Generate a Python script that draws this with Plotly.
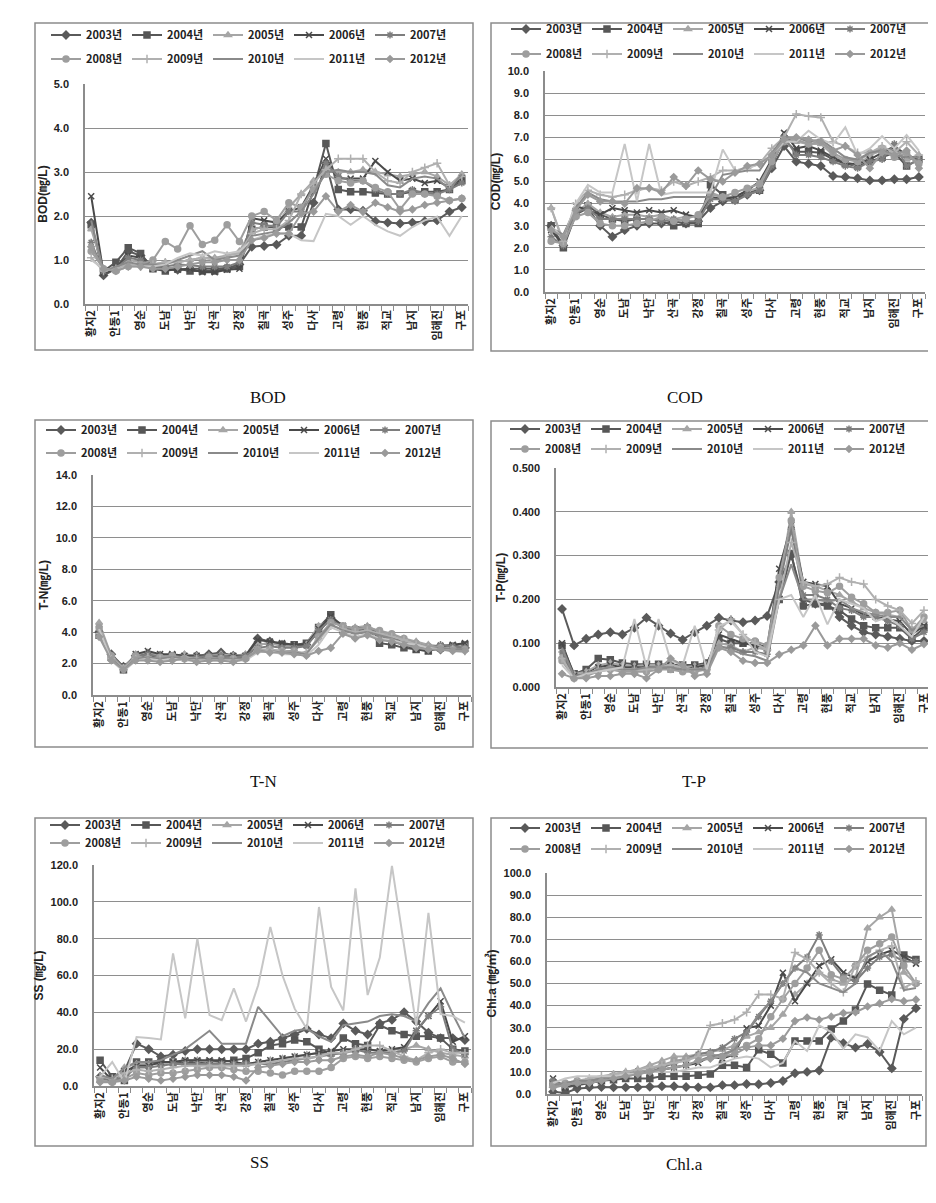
import plotly.graph_objects as go

# ---------------- data ----------------
YEARS = ["2003년", "2004년", "2005년", "2006년", "2007년",
         "2008년", "2009년", "2010년", "2011년", "2012년"]
# 31 monitoring sites along the river; only every second site is labelled
N_SITES = 31
SITE_LABELS = ["황지2", "안동1", "영순", "도남", "낙단", "산곡", "강정", "칠곡",
               "성주", "다사", "고령", "현풍", "적교", "남지", "임해진", "구포"]

BOD = [
    [1.85,0.65,0.80,1.20,1.10,0.85,0.80,0.78,0.80,0.80,0.80,0.82,0.90,1.30,1.32,1.35,1.55,1.55,2.30,3.20,2.15,2.15,2.12,1.88,1.85,1.83,1.85,1.88,1.90,2.10,2.20],
    [1.80,0.75,0.95,1.28,1.15,0.80,0.75,0.80,0.75,0.75,0.75,0.80,0.85,1.70,1.75,1.75,1.75,1.75,2.60,3.65,2.60,2.55,2.55,2.52,2.50,2.50,2.55,2.55,2.55,2.60,2.80],
    [1.70,0.80,0.75,1.00,0.95,0.90,0.95,0.95,1.00,1.05,1.05,1.10,1.20,1.70,1.75,1.80,2.20,2.50,2.80,3.10,3.00,3.00,3.05,3.00,2.95,2.90,2.95,3.00,2.90,2.70,2.95],
    [2.45,0.70,0.80,1.10,1.05,0.80,0.78,0.78,0.80,0.72,0.72,0.78,0.80,1.95,1.90,1.85,2.10,2.20,2.70,3.30,2.85,2.85,2.85,3.25,3.00,2.80,2.85,2.75,2.80,2.65,2.85],
    [1.40,0.75,0.80,1.05,1.00,0.85,0.85,0.90,0.88,0.85,0.85,0.85,0.95,1.85,1.80,1.75,2.10,2.10,2.70,3.20,2.90,2.80,2.80,2.60,2.50,2.50,2.60,2.50,2.50,2.60,2.75],
    [1.20,0.80,0.75,0.85,0.90,1.00,1.42,1.25,1.78,1.35,1.45,1.80,1.42,2.00,2.10,1.90,2.30,2.20,2.60,2.95,2.80,2.75,2.80,2.65,2.55,2.15,2.50,2.50,2.45,2.35,2.40],
    [1.05,0.75,0.80,0.90,0.85,0.90,0.95,0.95,1.00,1.05,1.00,1.10,1.15,1.60,1.70,1.70,1.90,2.50,2.75,3.05,3.30,3.30,3.30,3.00,2.80,2.75,3.00,3.10,3.20,2.70,2.90],
    [1.90,0.75,0.85,0.95,0.90,0.90,0.90,1.00,1.10,1.20,1.00,1.05,1.10,1.55,1.60,1.65,1.85,2.10,2.50,3.00,3.05,3.00,3.00,2.95,2.70,2.65,2.85,2.90,2.85,2.60,2.95],
    [1.00,0.80,0.75,0.85,0.85,0.85,0.90,1.05,1.15,1.10,1.20,1.15,1.20,1.45,1.55,1.60,1.60,1.45,1.43,2.05,2.00,1.80,2.00,1.80,1.65,1.55,1.75,1.90,1.98,1.55,2.00],
    [1.30,0.80,0.75,0.85,0.85,0.80,0.80,0.85,0.90,0.95,0.95,1.00,1.00,1.45,1.50,1.60,1.60,2.05,2.10,2.45,2.10,2.25,2.10,2.30,2.20,2.10,2.15,2.25,2.30,2.35,2.40],
]

COD = [
    [3.0,2.1,3.5,3.8,3.0,2.5,2.8,3.0,3.1,3.1,3.2,3.1,3.2,3.8,4.1,4.2,4.4,4.6,5.6,6.6,5.9,5.8,5.7,5.25,5.2,5.15,5.05,5.05,5.1,5.1,5.2],
    [3.0,2.0,3.5,3.9,3.5,3.3,3.2,3.3,3.3,3.2,3.0,3.1,3.1,4.85,4.4,4.2,4.5,4.6,5.8,6.9,6.35,6.35,6.3,6.0,5.8,5.7,5.9,6.1,6.3,5.7,6.0],
    [3.8,2.2,3.6,4.0,3.6,3.4,3.5,3.5,3.4,3.5,3.3,3.4,3.4,4.5,4.3,4.3,4.6,4.7,5.9,7.1,6.8,6.7,6.7,6.2,5.9,5.7,6.2,6.4,6.5,6.0,6.2],
    [2.8,2.1,3.9,3.7,3.5,3.8,3.7,3.6,3.7,3.6,3.7,3.5,3.4,4.3,4.2,4.3,4.6,5.0,6.0,7.2,6.5,6.6,6.4,6.1,5.8,5.8,6.0,6.3,6.6,6.2,6.0],
    [2.5,2.1,3.6,3.8,3.3,3.3,3.3,3.3,3.3,3.2,3.3,3.2,3.2,4.2,4.2,4.1,4.4,4.6,5.7,7.0,6.2,6.2,6.1,5.9,5.7,5.6,5.9,6.0,6.7,5.7,6.0],
    [2.3,2.2,3.4,3.6,3.1,3.0,3.0,3.1,3.2,3.4,3.2,3.3,3.5,4.4,4.3,4.5,4.7,4.9,5.9,6.8,6.9,6.7,6.8,6.3,6.0,5.9,6.3,6.5,6.1,6.3,5.8],
    [3.8,2.3,4.0,4.6,4.4,4.3,4.4,4.6,4.7,4.6,5.0,4.8,5.0,5.2,5.5,5.5,5.6,5.8,6.5,7.0,8.05,7.95,7.9,6.8,6.6,6.3,6.3,6.6,6.3,6.8,6.2],
    [2.9,2.6,3.8,4.5,4.2,4.1,4.1,4.1,4.2,4.2,4.3,4.3,4.3,4.3,5.3,5.4,5.5,5.5,6.3,7.0,7.0,6.8,6.9,6.5,6.1,6.0,6.3,6.4,6.2,6.1,6.1],
    [3.0,2.4,4.0,4.85,4.5,4.5,6.7,4.1,6.7,4.4,4.5,4.5,4.5,4.5,6.45,5.5,5.6,5.8,6.2,6.8,6.8,7.3,6.9,6.7,7.45,6.2,6.5,7.05,6.5,7.1,6.4],
    [2.8,2.5,3.7,4.4,4.1,4.1,4.0,4.7,4.7,4.5,5.2,4.8,5.5,5.1,5.0,5.4,5.7,5.8,6.2,6.9,7.0,6.9,6.8,6.4,6.6,6.2,5.6,6.3,6.2,6.4,5.6],
]

TN = [
    [4.0,2.6,1.8,2.5,2.6,2.5,2.4,2.5,2.5,2.6,2.7,2.5,2.5,3.6,3.4,3.2,3.1,3.2,4.0,4.9,4.3,4.2,4.2,4.0,3.6,3.4,3.1,2.9,2.9,3.0,3.0],
    [3.8,2.4,1.6,2.4,2.5,2.4,2.5,2.4,2.3,2.4,2.5,2.4,2.4,3.2,3.3,3.2,3.2,3.3,4.3,5.1,4.2,4.1,4.2,3.3,3.2,3.0,2.9,2.8,3.0,3.1,3.2],
    [4.6,2.5,1.7,2.6,2.7,2.5,2.5,2.6,2.5,2.5,2.6,2.5,2.6,3.2,3.3,3.1,3.1,3.2,4.4,4.8,4.3,4.3,4.4,4.0,3.8,3.6,3.4,3.2,3.1,3.0,3.2],
    [4.2,2.4,1.6,2.6,2.8,2.6,2.6,2.5,2.5,2.5,2.4,2.5,2.5,3.5,3.4,3.3,3.2,3.2,4.2,5.0,4.4,4.2,4.3,3.6,3.4,3.2,2.9,2.8,3.1,3.2,3.3],
    [4.1,2.3,1.6,2.4,2.6,2.4,2.5,2.4,2.4,2.5,2.5,2.4,2.5,3.0,3.1,3.0,3.0,3.1,4.1,4.8,4.3,4.1,4.3,3.8,3.5,3.3,3.1,3.0,3.2,3.1,3.0],
    [4.3,2.5,1.7,2.5,2.3,2.4,2.5,2.3,2.2,2.4,2.3,2.3,2.3,2.9,2.9,2.8,2.8,2.6,3.7,4.6,4.4,4.2,4.3,4.1,3.9,3.6,3.3,3.1,3.0,2.9,2.9],
    [3.9,2.3,1.7,2.3,2.4,2.3,2.2,2.4,2.3,2.2,2.3,2.2,2.3,2.8,2.9,2.8,2.7,2.7,3.5,4.4,4.2,4.0,4.1,3.9,3.7,3.5,3.2,3.0,3.0,2.9,2.8],
    [4.0,2.3,1.6,2.3,2.4,2.3,2.4,2.3,2.3,2.3,2.3,2.3,2.3,2.8,2.8,2.7,2.7,2.6,3.6,4.5,4.1,3.9,4.0,3.8,3.6,3.3,3.1,3.0,3.0,2.9,2.9],
    [4.2,2.2,1.5,2.2,2.3,2.2,2.3,2.2,2.2,2.2,2.2,2.2,2.2,2.7,2.8,2.6,2.6,2.5,3.2,4.3,4.0,3.7,3.9,3.6,3.5,3.3,3.2,3.0,2.9,2.8,2.7],
    [3.7,2.2,1.6,2.2,2.2,2.1,2.2,2.3,2.1,2.2,2.2,2.1,2.3,2.8,2.7,2.7,2.6,2.5,2.8,3.0,3.9,3.6,3.8,3.5,3.4,3.2,3.0,2.9,2.9,2.8,2.8],
]

TP = [
    [0.178,0.095,0.110,0.120,0.125,0.120,0.135,0.158,0.140,0.122,0.108,0.125,0.140,0.158,0.152,0.148,0.152,0.162,0.240,0.300,0.200,0.190,0.190,0.160,0.140,0.125,0.120,0.115,0.110,0.105,0.105],
    [0.095,0.030,0.040,0.065,0.062,0.055,0.052,0.052,0.052,0.050,0.050,0.050,0.055,0.110,0.100,0.100,0.100,0.090,0.200,0.305,0.185,0.190,0.185,0.175,0.155,0.140,0.135,0.135,0.135,0.110,0.135],
    [0.070,0.030,0.035,0.050,0.055,0.050,0.048,0.050,0.050,0.048,0.045,0.048,0.050,0.100,0.095,0.080,0.090,0.085,0.230,0.400,0.235,0.230,0.220,0.210,0.195,0.180,0.170,0.165,0.160,0.130,0.150],
    [0.100,0.025,0.030,0.045,0.050,0.045,0.045,0.045,0.045,0.040,0.040,0.045,0.050,0.120,0.110,0.100,0.095,0.090,0.270,0.370,0.240,0.235,0.230,0.190,0.180,0.165,0.160,0.155,0.150,0.120,0.140],
    [0.080,0.020,0.030,0.040,0.045,0.040,0.040,0.040,0.045,0.040,0.040,0.040,0.045,0.090,0.090,0.080,0.080,0.075,0.230,0.360,0.210,0.210,0.200,0.180,0.175,0.160,0.160,0.150,0.140,0.110,0.125],
    [0.060,0.020,0.025,0.035,0.040,0.035,0.035,0.035,0.040,0.040,0.035,0.035,0.040,0.140,0.120,0.110,0.105,0.095,0.250,0.380,0.230,0.220,0.215,0.230,0.205,0.190,0.170,0.170,0.175,0.130,0.160],
    [0.065,0.020,0.030,0.040,0.040,0.040,0.040,0.040,0.045,0.050,0.045,0.040,0.040,0.130,0.155,0.120,0.100,0.085,0.200,0.330,0.240,0.230,0.235,0.250,0.240,0.235,0.200,0.185,0.175,0.145,0.175],
    [0.090,0.025,0.030,0.040,0.045,0.040,0.040,0.045,0.045,0.045,0.040,0.040,0.040,0.095,0.085,0.075,0.070,0.060,0.200,0.280,0.200,0.200,0.195,0.200,0.180,0.170,0.165,0.160,0.160,0.130,0.140],
    [0.050,0.020,0.030,0.035,0.040,0.045,0.155,0.045,0.155,0.060,0.050,0.140,0.040,0.140,0.150,0.120,0.080,0.070,0.200,0.210,0.160,0.210,0.143,0.200,0.190,0.180,0.150,0.160,0.140,0.115,0.160],
    [0.030,0.020,0.020,0.025,0.025,0.030,0.030,0.020,0.040,0.065,0.050,0.025,0.030,0.090,0.080,0.060,0.055,0.055,0.074,0.085,0.095,0.140,0.095,0.110,0.110,0.110,0.095,0.090,0.100,0.085,0.098],
]

SS = [
    [5,3,8,23,20,16,17,19,20,20,20,20,20,23,24,26,28,31,28,26,34,30,28,34,36,40,35,29,26,26,25],
    [14,5,3,13,13,13,13,13,13,13,13,14,15,18,22,23,25,24,20,18,26,23,22,33,30,28,27,27,26,20,19],
    [3,2,10,12,12,12,13,14,14,13,12,12,12,13,14,15,16,17,18,17,18,19,20,19,18,20,22,20,18,17,16],
    [10,3,8,11,11,13,13,14,14,14,14,13,12,13,14,15,16,17,18,19,20,20,20,19,20,21,30,38,46,24,27],
    [4,3,5,10,10,11,12,12,12,12,12,12,12,12,12,13,14,15,16,17,18,20,18,18,18,19,30,38,43,20,17],
    [3,2,4,7,6,7,7,8,9,10,10,9,8,8,7,6,8,8,8,10,15,16,15,16,15,14,13,15,16,13,13],
    [5,4,7,9,8,9,10,11,11,11,11,11,11,12,13,14,15,15,16,18,18,20,22,22,19,16,14,18,20,18,18],
    [6,4,10,13,13,14,17,20,25,30,23,23,23,43,35,27,30,31,27,24,33,34,35,38,39,38,35,45,53,39,26],
    [5,13,2,26.6,26,25.3,72,36.7,80,38.5,35.8,53,35,54.7,86.3,60,42,31,97.2,53.8,41,107.3,49.4,69.7,119.5,75,32.6,94,39,38,34.4],
    [2,2,3,5,4,3,4,5,6,6,6,5,3,10,11,12,13,13,14,14,16,17,16,18,17,15,14,16,17,15,12],
]

CHLA = [
    [1.0,0.5,2.5,3.0,3.2,3.0,3.0,3.0,3.3,3.5,3.5,3.2,3.0,3.0,4.0,4.0,4.5,4.4,5.0,5.9,9.4,10.0,10.6,25.5,23.0,21.0,22.6,19.0,11.6,34.0,38.8],
    [5.0,3.0,4.0,5.0,6.0,6.5,7.0,7.0,7.0,8.0,8.0,8.0,8.5,9.0,13.0,13.0,12.0,20.0,18.0,14.0,24.0,24.0,24.0,29.4,33.0,38.0,49.8,47.0,44.8,62.9,60.9],
    [6.0,3.5,5.0,6.0,7.0,9.0,10.0,11.0,13.0,15.0,17.0,17.0,18.0,19.0,20.0,22.0,26.0,28.0,30.0,36.0,45.0,50.0,55.0,52.0,50.0,52.5,75.0,80.0,83.5,55.0,50.0],
    [7.0,3.0,5.0,5.0,6.0,8.0,9.0,10.0,10.0,11.0,12.0,13.0,14.0,17.0,16.0,18.0,29.7,30.9,40.0,54.9,42.0,50.0,58.0,61.0,55.0,52.3,60.0,63.0,65.0,62.0,59.0],
    [6.0,4.0,5.0,6.0,7.0,8.0,9.0,9.5,10.0,12.0,14.0,16.0,18.0,19.0,21.0,25.0,28.0,35.0,42.0,50.0,57.0,62.0,72.0,60.0,53.0,51.0,57.0,62.0,63.0,60.0,60.0],
    [4.0,5.0,6.0,6.0,7.0,8.0,9.0,10.0,11.0,13.0,15.0,16.0,17.0,18.0,17.0,20.0,22.0,25.0,35.0,43.0,50.0,57.0,65.0,54.0,52.0,58.0,65.0,68.0,71.0,58.0,50.0],
    [3,4,6,7,8,9,10,11,12,13,14,15,17,31,32,33.6,37,45,45,43,64,61,55,50,46,58,62,65,67,48,51],
    [4,5,6,6,7,8,8,9,10,11,12,13,15,17,18,20,28,36,42,50,57,55,50,48,46,50,62,65,60,47,48],
    [5,7,8,8,8,8,9,9,10,10,10,11,12,12,14,16,17,16,12,14,24,19.5,31,28,20.5,27,25.6,19.5,33,27,30],
    [3,4,5,5,6,7,8,9,10,11,12,13,15,16,17,18,21,22,22,25,33,34.6,33.6,35,36.6,37,39.6,41,43,42,42.7],
]

# ---------------- style ----------------
COLORS = ["#5a5a5a", "#575757", "#a6a6a6", "#4a4a4a", "#7e7e7e",
          "#9e9e9e", "#b0b0b0", "#8a8a8a", "#c6c6c6", "#9a9a9a"]
SYMBOLS = ["diamond", "square", "triangle-up", "x-thin-open", "asterisk-open",
           "circle", "cross-thin-open", None, None, "diamond"]
MSIZE = [6, 6, 6, 6, 6, 6, 6, 0, 0, 5]

W, H = 936, 1203
def fx(px): return px / W
def fy(py): return 1 - py / H

PANELS = [
    dict(data=BOD, plot=(77, 76, 460, 296), box=(27, 15, 465, 342), yr=(0, 5), dt=1, fmt=".1f",
         yt="BOD(㎎/L)", cap="BOD", capxy=(240, 378), leg=(38, 27, 51)),
    dict(data=COD, plot=(537, 63, 917, 284), box=(483, 15, 922, 343), yr=(0, 10), dt=1, fmt=".1f",
         yt="COD(㎎/L)", cap="COD", capxy=(697, 378), leg=(498, 21, 46)),
    dict(data=TN, plot=(85, 467, 463, 687), box=(27, 412, 465, 739), yr=(0, 14), dt=2, fmt=".1f",
         yt="T-N(㎎/L)", cap="T-N", capxy=(240, 773), leg=(33, 422, 445)),
    dict(data=TP, plot=(548, 460, 922, 679), box=(483, 413, 924, 740), yr=(0, 0.5), dt=0.1, fmt=".3f",
         yt="T-P(㎎/L)", cap="T-P", capxy=(700, 773), leg=(497, 421, 441)),
    dict(data=SS, plot=(86, 857, 463, 1078), box=(27, 810, 465, 1138), yr=(0, 120), dt=20, fmt=".1f",
         yt="SS (㎎/L)", cap="SS", capxy=(240, 1166), leg=(37, 817, 835)),
    dict(data=CHLA, plot=(539, 865, 914, 1086), box=(483, 810, 918, 1138), yr=(0, 100), dt=10, fmt=".1f",
         yt="Chl.a (㎎/㎥)", cap="Chl.a", capxy=(697, 1168), leg=(497, 820, 841)),
]

KFONT = "Noto Sans CJK KR, Liberation Sans, sans-serif"
AFONT = "Liberation Sans, Arial, Noto Sans CJK KR, sans-serif"

x_idx = list(range(N_SITES))
fig = go.Figure()
layout = dict(width=W, height=H, margin=dict(l=0, r=0, t=0, b=0),
              paper_bgcolor="white", plot_bgcolor="white", template="none",
              showlegend=True, shapes=[], annotations=[])

for p, P in enumerate(PANELS):
    sfx = "" if p == 0 else str(p + 1)
    leg1 = "legend" if p == 0 else f"legend{2 * p + 1}"
    leg2 = f"legend{2 * p + 2}"
    for s, (yname, vals) in enumerate(zip(YEARS, P["data"])):
        assert len(vals) == N_SITES
        sym = SYMBOLS[s]
        mode = "lines+markers" if sym else "lines"
        fig.add_trace(go.Scatter(
            x=x_idx, y=vals, name=yname, mode=mode,
            xaxis="x" + sfx, yaxis="y" + sfx,
            legend=leg1 if s < 5 else leg2,
            line=dict(color=COLORS[s], width=2),
            marker=dict(symbol=sym or "circle", size=MSIZE[s], color=COLORS[s],
                        line=dict(color=COLORS[s], width=1.5)),
            hoverinfo="x+y+name",
        ))
    x0, y0, x1, y1 = P["plot"]
    layout["xaxis" + sfx] = dict(
        domain=[fx(x0), fx(x1)], anchor="y" + sfx, range=[-0.5, N_SITES - 0.5],
        tickmode="array", tickvals=x_idx[::2], ticktext=SITE_LABELS, tickangle=-90,
        ticks="", showgrid=False, zeroline=False, showline=True,
        linecolor="#8c8c8c", linewidth=1.5, automargin=False,
        tickfont=dict(family=KFONT, size=11, color="#222", weight="bold"),
        minor=dict(ticks="outside", tickmode="linear", tick0=-0.5, dtick=1,
                   ticklen=5, tickwidth=1, tickcolor="#8c8c8c", showgrid=False),
    )
    layout["yaxis" + sfx] = dict(
        domain=[fy(y1), fy(y0)], anchor="x" + sfx, range=list(P["yr"]),
        tickmode="linear", tick0=0, dtick=P["dt"], tickformat=P["fmt"],
        showgrid=True, gridcolor="#8e8e8e", gridwidth=1.3, zeroline=False,
        showline=True, linecolor="#8c8c8c", linewidth=1.5, ticks="",
        ticklabelstandoff=12, automargin=False,
        tickfont=dict(family=AFONT, size=11, color="#222", weight="bold"),
        title=dict(text=P["yt"], standoff=4,
                   font=dict(family=AFONT, size=12, color="#222", weight="bold")),
    )
    lx, ly1, ly2 = P["leg"]
    for lg, ly in ((leg1, ly1), (leg2, ly2)):
        layout[lg] = dict(x=fx(lx), y=fy(ly), xanchor="left", yanchor="middle",
                          orientation="h", entrywidth=36, entrywidthmode="pixels",
                          itemwidth=30, bgcolor="rgba(0,0,0,0)", borderwidth=0,
                          font=dict(family=KFONT, size=11, color="#222", weight="bold"),
                          tracegroupgap=0)
    bx0, by0, bx1, by1 = P["box"]
    layout["shapes"].append(dict(type="rect", xref="paper", yref="paper",
                                 x0=fx(bx0), x1=fx(bx1), y0=fy(by1), y1=fy(by0),
                                 line=dict(color="#8c8c8c", width=1.5)))
    cx, cy = P["capxy"]
    layout["annotations"].append(dict(text=P["cap"], x=fx(cx), y=fy(cy), xref="paper",
                                      yref="paper", showarrow=False,
                                      font=dict(family="Liberation Serif, DejaVu Serif, serif",
                                                size=17, color="#111")))

fig.update_layout(**layout)
fig.write_html("out.html")
